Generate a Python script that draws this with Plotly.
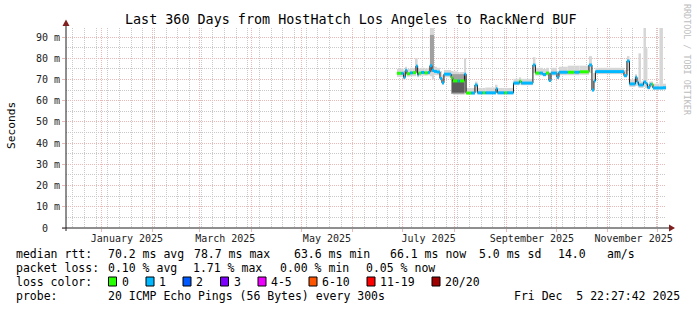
import plotly.graph_objects as go
import pandas as pd

# ---------------- data ----------------
t_start = "2024-12-10 22:27:42"
t_end = "2025-12-05 22:27:42"
y_top = 94.25  # ms

seg_start = [
    "2025-06-27 12:00", "2025-06-30 00:00", "2025-07-01 12:00", "2025-07-02 12:00",
    "2025-07-03 12:00", "2025-07-05 07:00", "2025-07-07 00:00", "2025-07-08 22:00",
    "2025-07-09 22:00", "2025-07-10 12:00", "2025-07-12 00:00", "2025-07-14 00:00",
    "2025-07-16 00:00", "2025-07-17 07:00", "2025-07-18 12:00", "2025-07-19 17:00",
    "2025-07-21 12:00", "2025-07-23 07:00", "2025-07-24 12:00", "2025-07-25 17:00",
    "2025-07-30 00:00", "2025-07-31 00:00", "2025-08-03 00:00", "2025-08-04 00:00",
    "2025-08-07 00:00", "2025-08-08 00:00", "2025-08-11 00:00", "2025-08-13 07:00",
    "2025-08-14 19:00", "2025-08-18 00:00", "2025-08-19 12:00", "2025-08-25 22:00",
    "2025-08-26 19:00", "2025-08-31 00:00", "2025-09-01 12:00", "2025-09-05 10:00",
    "2025-09-09 00:00", "2025-09-10 00:00", "2025-09-17 02:00", "2025-09-18 14:00",
    "2025-09-21 00:00", "2025-09-23 02:00", "2025-09-24 22:00", "2025-09-26 17:00",
    "2025-09-27 22:00", "2025-10-01 12:00", "2025-10-02 17:00", "2025-10-08 00:00",
    "2025-10-12 00:00", "2025-10-15 00:00", "2025-10-20 17:00", "2025-10-22 12:00",
    "2025-10-23 17:00", "2025-10-24 14:00", "2025-11-10 17:00", "2025-11-12 12:00",
    "2025-11-14 00:00", "2025-11-17 14:00", "2025-11-18 12:00", "2025-11-19 10:00",
    "2025-11-20 22:00", "2025-11-22 10:00", "2025-11-23 22:00", "2025-11-24 19:00",
    "2025-11-26 07:00", "2025-11-27 05:00", "2025-11-28 02:00", "2025-12-02 00:00",
    "2025-12-04 02:00",
]
median_ms = [
    72.9, 72.9, 71.0, 74.3, 72.7, 73.1, 73.2, 76.3, 72.2, 73.0, 73.3, 73.1,
    73.3, 76.5, 74.3, 73.8, 73.5, 70.5, 68.4, 72.5, 70.8, 69.3, 69.3, 69.3,
    72.5, 63.6, 63.6, 67.4, 63.7, 63.7, 63.7, 65.6, 63.7, 63.7, 63.7, 68.3,
    69.2, 68.3, 76.8, 73.0, 73.0, 72.3, 73.0, 69.5, 73.0, 71.0, 73.4, 73.4,
    73.4, 73.6, 76.8, 65.0, 69.3, 73.7, 71.8, 78.7, 67.9, 71.0, 68.8, 67.4,
    67.4, 68.8, 68.0, 66.2, 67.7, 67.7, 66.0, 66.0, 66.1,
]
loss_cat = [
    0, 1, 1, 1, 0, 1, 0, 1, 1, 0, 1, 0,
    1, 1, 1, 1, 1, 1, 1, 1, 0, 0, 1, 0,
    1, 0, 1, 1, 1, 0, 1, 1, 1, 0, 1, 1,
    0, 1, 1, 0, 1, 1, 0, 1, 1, 1, 1, 0,
    1, 0, 1, 1, 1, 1, 1, 1, 1, 1, 1, 1,
    1, 1, 1, 1, 1, 0, 1, 1, 1,
]
smoke_lo = [
    71.2, 71.2, 70.0, 72.0, 71.3, 71.5, 71.5, 73.0, 71.0, 71.5, 71.8, 71.8,
    72.0, 71.5, 70.0, 72.0, 72.0, 69.5, 67.5, 71.0, 64.0, 62.8, 62.8, 62.8,
    63.0, 63.0, 63.0, 64.0, 63.0, 63.0, 63.0, 63.5, 63.0, 63.0, 63.0, 67.3,
    67.5, 67.3, 73.0, 71.8, 71.8, 71.5, 71.8, 69.0, 71.8, 70.2, 72.0, 72.0,
    72.0, 72.2, 73.0, 64.5, 68.5, 72.5, 71.0, 74.0, 66.5, 67.0, 67.0, 66.0,
    66.0, 66.5, 66.0, 65.3, 66.5, 66.5, 65.2, 65.2, 65.2,
]
smoke_hi = [
    75.0, 75.2, 74.0, 76.0, 75.0, 75.5, 75.3, 80.0, 75.0, 75.2, 75.5, 75.2,
    75.5, 94.3, 94.3, 76.0, 75.5, 74.0, 72.0, 74.5, 74.0, 73.8, 73.5, 73.5,
    80.0, 66.0, 66.0, 69.0, 66.0, 66.0, 66.2, 67.5, 66.0, 66.0, 66.0, 70.3,
    71.0, 70.3, 80.5, 75.5, 75.5, 75.0, 75.5, 73.5, 75.5, 74.0, 76.0, 76.5,
    76.5, 76.5, 81.0, 70.0, 73.0, 75.5, 74.5, 81.0, 70.0, 72.5, 71.0, 82.3,
    69.0, 94.3, 84.7, 68.0, 69.0, 69.0, 68.0, 94.3, 68.0,
]
# denser smoke (more pings concentrated) where visible
mid_start = ["2025-07-17 07:00", "2025-07-30 00:00", "2025-08-07 00:00"]
mid_end = ["2025-07-19 17:00", "2025-08-07 00:00", "2025-08-08 00:00"]
mid_lo = [73.5, 63.2, 64.0]
mid_hi = [91.0, 72.5, 72.5]
core_start = ["2025-07-30 12:00"]
core_end = ["2025-08-07 00:00"]
core_lo = [63.8]
core_hi = [69.8]

month_starts = [f"2025-{m:02d}-01" for m in range(1, 13)]
label_times = ["2025-01-16 12:00", "2025-03-16 12:00", "2025-05-16 12:00",
               "2025-07-16 12:00", "2025-09-16 12:00", "2025-11-16 12:00"]
label_text = ["January 2025", "March 2025", "May 2025",
              "July 2025", "September 2025", "November 2025"]
y_ticks = [0, 10, 20, 30, 40, 50, 60, 70, 80, 90]
y_text = ["0\u00a0\u00a0"] + [f"{v} m" for v in y_ticks[1:]]
y_minor = [5, 15, 25, 35, 45, 55, 65, 75, 85]

loss_labels = ["0", "1", "2", "3", "4-5", "6-10", "11-19", "20/20"]

# ---------------- style ----------------
LOSS_COLORS = ["#26ff00", "#00b8ff", "#0059ff", "#7e00ff",
               "#ee00ff", "#ff5500", "#ff0000", "#a10000"]
MONO = "DejaVu Sans Mono"
MGRID = "#ecb9b9"
GRID = "#c9c9c9"
W, H = 697, 310
L, R, T, B = 66, 666, 28, 228


def px(xp):
    return (xp - L) / (R - L)


def py(yp):
    return (B - yp) / (B - T)


def to_dt(v):
    return pd.to_datetime(list(v), format="ISO8601")


fig = go.Figure()

starts = to_dt(seg_start)
ends = to_dt(list(seg_start[1:]) + [t_end])


def add_bars(s, e, lo, hi, color):
    s = to_dt(s)
    e = to_dt(e)
    xs, ws, bs, hs = [], [], [], []
    for a, b, l, h in zip(s, e, lo, hi):
        if l is None or h is None:
            continue
        xs.append((a + (b - a) / 2).strftime("%Y-%m-%d %H:%M:%S"))
        ws.append((b - a).total_seconds() * 1000)
        bs.append(l)
        hs.append(h - l)
    fig.add_trace(go.Bar(x=xs, y=hs, base=bs, width=ws,
                         marker=dict(color=color, line=dict(width=0)),
                         hoverinfo="skip", showlegend=False))


add_bars(starts, ends, smoke_lo, smoke_hi, "#d6d6d6")
add_bars(mid_start, mid_end, mid_lo, mid_hi, "#a0a0a0")
add_bars(core_start, core_end, core_lo, core_hi, "#5c5c5c")

# median thin dark line
fig.add_trace(go.Scatter(
    x=list(seg_start) + [t_end], y=list(median_ms) + [median_ms[-1]],
    mode="lines", line=dict(color="#1a1a1a", width=1, shape="hv"),
    hoverinfo="skip", showlegend=False))

# colored median by loss
for c in sorted(set(loss_cat)):
    xs, ys = [], []
    for a, b, v, lc in zip(starts, ends, median_ms, loss_cat):
        if lc != c:
            continue
        xs += [a.strftime("%Y-%m-%d %H:%M"), b.strftime("%Y-%m-%d %H:%M"), None]
        ys += [v, v, None]
    fig.add_trace(go.Scatter(x=xs, y=ys, mode="lines",
                             line=dict(color=LOSS_COLORS[c], width=3),
                             hoverinfo="skip", showlegend=False))

# invisible trace so that the label axis is drawn
fig.add_trace(go.Scatter(x=[label_times[0]], y=[0], xaxis="x2", mode="markers",
                         marker=dict(opacity=0), hoverinfo="skip", showlegend=False))

shapes = []
AX = "#1e1e1e"
ARROW = "#7f1f1f"
shapes.append(dict(type="line", xref="paper", yref="paper",
                   x0=px(62), x1=px(670), y0=py(228), y1=py(228),
                   line=dict(color=AX, width=1)))
shapes.append(dict(type="line", xref="paper", yref="paper",
                   x0=px(66), x1=px(66), y0=py(231), y1=py(25),
                   line=dict(color=AX, width=1)))
shapes.append(dict(type="path", xref="paper", yref="paper",
                   path=f"M {px(669)} {py(224.5)} L {px(675)} {py(228)} L {px(669)} {py(231.5)} Z",
                   fillcolor=ARROW, line=dict(color=ARROW, width=0)))
shapes.append(dict(type="path", xref="paper", yref="paper",
                   path=f"M {px(62.5)} {py(26)} L {px(66)} {py(19.5)} L {px(69.5)} {py(26)} Z",
                   fillcolor=ARROW, line=dict(color=ARROW, width=0)))

ann = []


def text(s, x, y, size=11.5, anchor="left", color="#000000", angle=0):
    ann.append(dict(text=s, xref="paper", yref="paper", x=px(x), y=py(y),
                    xanchor=anchor, yanchor="middle", showarrow=False,
                    textangle=angle, borderpad=0, borderwidth=0,
                    font=dict(family=MONO, size=size, color=color)))


text("Last 360 Days from HostHatch Los Angeles to RackNerd BUF", 350, 19,
     size=13.4, anchor="center")
text("Seconds", 11, 126, size=11.2, anchor="center", angle=-90)
text("RRDTOOL / TOBI OETIKER", 687, 60, size=8.4, anchor="center",
     color="#bdbdbd", angle=90)

row1 = [("median rtt:", 16), ("70.2 ms avg", 108), ("78.7 ms max", 194),
        ("63.6 ms min", 294), ("66.1 ms now", 390), ("5.0 ms sd", 479),
        ("14.0", 558), ("am/s", 607)]
for s, x in row1:
    text(s, x, 254)
row2 = [("packet loss:", 16), ("0.10 % avg", 108), ("1.71 % max", 193),
        ("0.00 % min", 280), ("0.05 % now", 366)]
for s, x in row2:
    text(s, x, 268)
text("loss color:", 16, 281.5)
box_x = [108.5, 146, 183, 220.5, 258, 309, 367, 432]
for i, (lab, bx) in enumerate(zip(loss_labels, box_x)):
    shapes.append(dict(type="rect", xref="paper", yref="paper",
                       x0=px(bx), x1=px(bx + 8), y0=py(286), y1=py(277),
                       fillcolor=LOSS_COLORS[i], line=dict(color="#000000", width=1)))
    text(lab, bx + 13, 281.5)
text("probe:", 16, 296)
text("20 ICMP Echo Pings (56 Bytes) every 300s", 108, 296)
text("Fri Dec\u00a0\u00a05 22:27:42 2025", 679.5, 296, anchor="right")

fig.update_layout(
    width=W, height=H, autosize=False,
    margin=dict(l=L, r=W - R, t=T, b=H - B, pad=0),
    paper_bgcolor="#ffffff", plot_bgcolor="#ffffff",
    barmode="overlay", showlegend=False,
    shapes=shapes, annotations=ann,
    xaxis=dict(type="date", range=[t_start, t_end], tickmode="array",
               tickvals=month_starts, showticklabels=False,
               ticks="outside", ticklen=3, tickcolor=MGRID,
               showgrid=True, gridcolor=MGRID, griddash="1px,1px", gridwidth=1,
               minor=dict(tickmode="array",
                          tickvals=[d.strftime("%Y-%m-%d") for d in
                                    pd.date_range("2024-12-15", "2025-12-01", freq="7D")],
                          showgrid=True, gridcolor=GRID, griddash="1px,1px",
                          gridwidth=1, ticks=""),
               zeroline=False, showline=False, fixedrange=True),
    xaxis2=dict(type="date", range=[t_start, t_end], overlaying="x", anchor="y",
                side="bottom", tickmode="array", tickvals=label_times,
                ticktext=label_text, ticks="", showgrid=False, zeroline=False,
                showline=False, ticklabelstandoff=3,
                tickfont=dict(family=MONO, size=10, color="#222222")),
    yaxis=dict(range=[0, y_top], tickmode="array", tickvals=y_ticks,
               ticktext=y_text, ticks="outside", ticklen=3, tickcolor=MGRID,
               showgrid=True, gridcolor=MGRID, griddash="1px,1px", gridwidth=1,
               minor=dict(tickmode="array", tickvals=y_minor, showgrid=True,
                          gridcolor=GRID, griddash="1px,1px", gridwidth=1, ticks=""),
               zeroline=False, showline=False,
               tickfont=dict(family=MONO, size=10, color="#222222")),
)

fig.write_html("out.html")
